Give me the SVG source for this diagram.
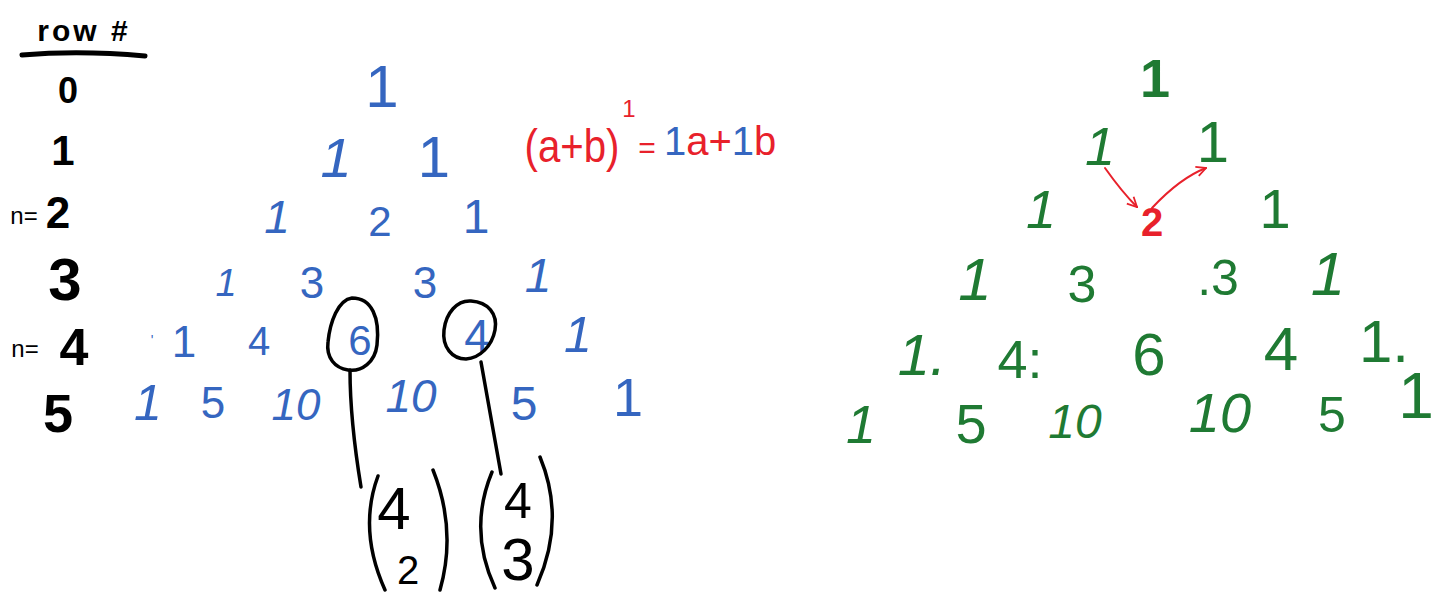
<svg xmlns="http://www.w3.org/2000/svg" width="1432" height="592" viewBox="0 0 1432 592">
<style>
text{font-family:"Liberation Sans","DejaVu Sans",sans-serif;text-anchor:middle}
.k{fill:#000;font-weight:bold}
.kn{fill:#000;font-weight:normal}
.b{fill:#3566c0}
.r{fill:#e8212b}
.g{fill:#1f7a33}
.st{text-anchor:start}
.ks{fill:none;stroke:#000;stroke-width:3.5;stroke-linecap:round}
.kb{fill:none;stroke:#000;stroke-width:5;stroke-linecap:round}
.rs{fill:none;stroke:#e8212b;stroke-width:2;stroke-linecap:round}
</style>
<defs>
<marker id="ah" viewBox="0 0 10 10" refX="9" refY="5" markerWidth="6" markerHeight="6" orient="auto">
<path d="M1,1 L9,5 L1,9" fill="none" stroke="#e8212b" stroke-width="1.5"/>
</marker>
</defs>
<rect width="1432" height="592" fill="#fff"/>

<g id="row-labels">
<text class="k" x="84" y="41" font-size="30" letter-spacing="3">row #</text>
<path class="kb" d="M22,55 Q80,50 145,56"/>
<text class="k" x="68" y="103" font-size="36">0</text>
<text class="k" x="63" y="165" font-size="42">1</text>
<text class="kn" x="24" y="224" font-size="24">n=</text>
<text class="k" x="58" y="228" font-size="44">2</text>
<text class="k" x="65" y="300" font-size="60">3</text>
<text class="kn" x="25" y="357" font-size="24">n=</text>
<text class="k" x="74" y="365" font-size="52">4</text>
<text class="k" x="58" y="432" font-size="54">5</text>
</g>

<g id="blue-triangle">
<text class="b" x="382" y="107" font-size="60">1</text>
<text class="b" x="336" y="177" font-size="56" font-style="italic">1</text>
<text class="b" x="434" y="177" font-size="58">1</text>
<text class="b" x="277" y="233" font-size="46" font-style="italic">1</text>
<text class="b" x="380" y="236" font-size="42">2</text>
<text class="b" x="476" y="233" font-size="48">1</text>
<text class="b" x="226" y="296" font-size="38" font-style="italic">1</text>
<text class="b" x="312" y="298" font-size="44">3</text>
<text class="b" x="425" y="298" font-size="44">3</text>
<text class="b" x="538" y="292" font-size="48" font-style="italic">1</text>
<text class="b" x="152" y="345" font-size="14">'</text>
<text class="b" x="184" y="357" font-size="44">1</text>
<text class="b" x="259" y="355" font-size="40">4</text>
<text class="b" x="360" y="355" font-size="42">6</text>
<text class="b" x="477" y="352" font-size="46">4</text>
<text class="b" x="578" y="352" font-size="50" font-style="italic">1</text>
<text class="b" x="148" y="420" font-size="50" font-style="italic">1</text>
<text class="b" x="213" y="418" font-size="44">5</text>
<text class="b" x="296" y="420" font-size="44" font-style="italic">10</text>
<text class="b" x="411" y="412" font-size="46" font-style="italic">10</text>
<text class="b" x="524" y="420" font-size="48">5</text>
<text class="b" x="628" y="416" font-size="54">1</text>
</g>

<g id="circle-6">
<path class="ks" d="M352,298 C372,298 380,318 377,345 C375,362 362,372 348,370 C335,368 326,358 328,342 C330,322 338,300 352,298 Z"/>
</g>
<g id="circle-4">
<path class="ks" d="M471,301 C488,302 498,314 495,330 C492,346 480,358 466,359 C452,359 442,347 444,330 C446,313 457,300 471,301 Z"/>
</g>

<g id="connectors">
<path class="ks" d="M350,370 Q350,420 361,487"/>
<path class="ks" d="M481,362 L501,474"/>
</g>

<g id="binom-4-2">
<path class="ks" d="M378,476 Q358,530 385,590"/>
<path class="ks" d="M433,470 Q457,530 440,590"/>
<text class="kn" x="394" y="529" font-size="60">4</text>
<text class="kn" x="408" y="584" font-size="40">2</text>
</g>
<g id="binom-4-3">
<path class="ks" d="M492,472 Q468,530 495,588"/>
<path class="ks" d="M540,457 Q566,520 537,585"/>
<text class="kn" x="518" y="518" font-size="50">4</text>
<text class="kn" x="518" y="580" font-size="60">3</text>
</g>

<g id="formula">
<text class="r" x="572" y="162" font-size="46" textLength="95" lengthAdjust="spacingAndGlyphs">(a+b)</text>
<text class="r" x="629" y="117" font-size="24">1</text>
<text class="r" x="647" y="158" font-size="30">=</text>
<text class="st" x="664" y="155" font-size="40"><tspan class="b">1</tspan><tspan class="r">a+</tspan><tspan class="b">1</tspan><tspan class="r">b</tspan></text>
</g>

<g id="green-triangle">
<text class="g" x="1155" y="97" font-size="54" font-weight="bold">1</text>
<text class="g" x="1100" y="165" font-size="54" font-style="italic">1</text>
<text class="g" x="1213" y="162" font-size="58">1</text>
<text class="g" x="1041" y="228" font-size="54" font-style="italic">1</text>
<text class="g" x="1275" y="228" font-size="56">1</text>
<text class="g" x="975" y="300" font-size="60" font-style="italic">1</text>
<text class="g" x="1082" y="302" font-size="52">3</text>
<text class="g" x="1218" y="295" font-size="50">.3</text>
<text class="g" x="1328" y="295" font-size="62" font-style="italic">1</text>
<text class="g" x="922" y="375" font-size="58" font-style="italic">1.</text>
<text class="g" x="1020" y="378" font-size="54">4:</text>
<text class="g" x="1149" y="375" font-size="60">6</text>
<text class="g" x="1281" y="370" font-size="62">4</text>
<text class="g" x="1384" y="362" font-size="60">1.</text>
<text class="g" x="861" y="443" font-size="54" font-style="italic">1</text>
<text class="g" x="971" y="443" font-size="56">5</text>
<text class="g" x="1075" y="438" font-size="48" font-style="italic">10</text>
<text class="g" x="1220" y="432" font-size="56" font-style="italic">10</text>
<text class="g" x="1332" y="432" font-size="50">5</text>
<text class="g" x="1416" y="418" font-size="64">1</text>
</g>

<g id="red-arrows">
<path class="rs" d="M1105,168 Q1122,192 1137,207" marker-end="url(#ah)"/>
<path class="rs" d="M1152,208 Q1180,178 1206,168" marker-end="url(#ah)"/>
<text class="r" x="1152" y="236" font-size="40" font-weight="bold">2</text>
</g>
</svg>
